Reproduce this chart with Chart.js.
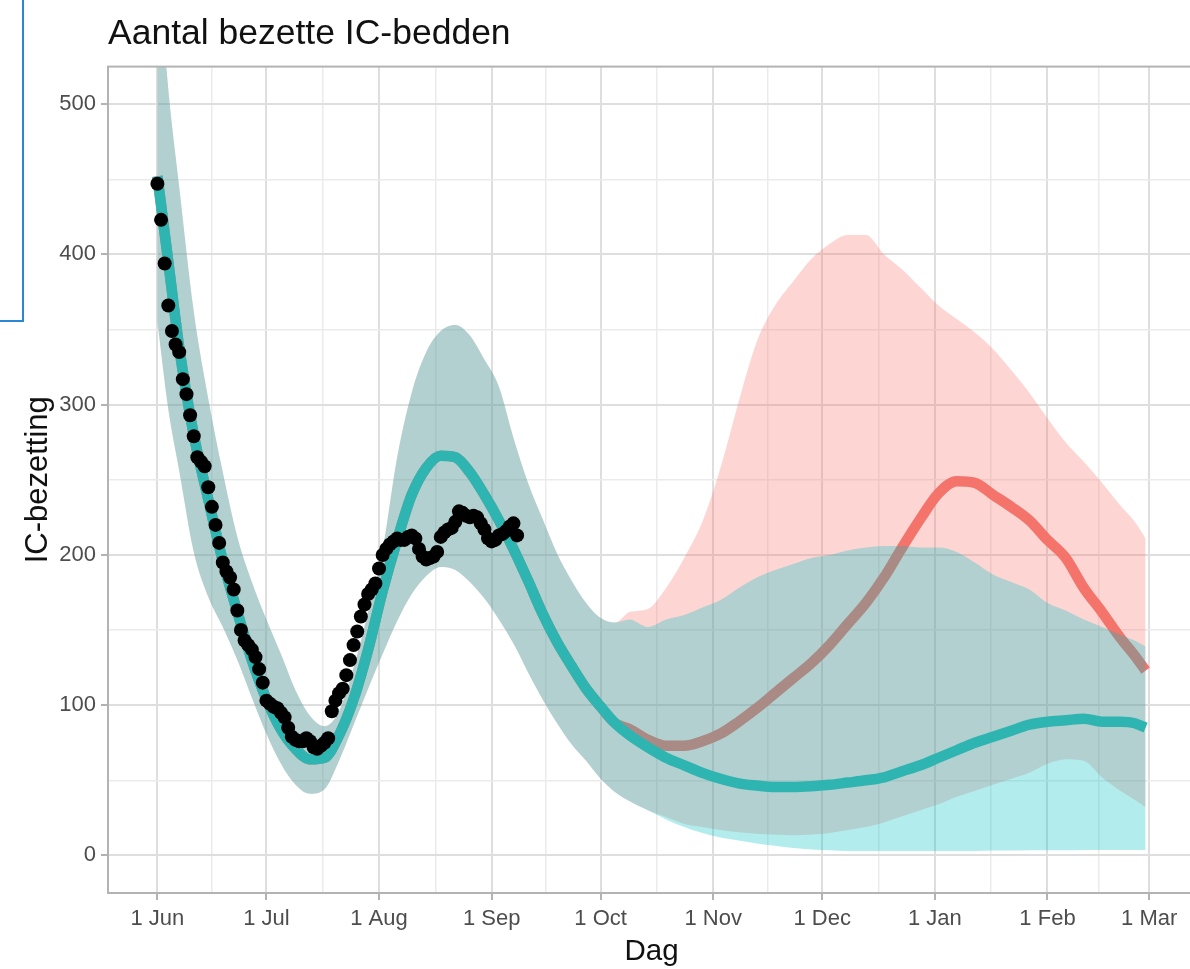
<!DOCTYPE html>
<html>
<head>
<meta charset="utf-8">
<title>Aantal bezette IC-bedden</title>
<script src="https://cdn.jsdelivr.net/npm/chart.js@4.4.0/dist/chart.umd.min.js"></script>
<style>
  html, body { margin: 0; padding: 0; background: #fff; overflow: hidden; }
  #wrap { position: relative; width: 1190px; height: 969px; overflow: hidden; }
  #icChart { position: absolute; left: 0; top: 0; }
  #frame { position: absolute; left: 0; top: 0; width: 22px; height: 320px;
           border-right: 2px solid #2b87d5; border-bottom: 2px solid #2b87d5; }
</style>
</head>
<body>
<div id="wrap">
  <canvas id="icChart" width="1210" height="969"></canvas>
  <div id="frame"></div>
</div>
<script>
// x = days since 1 June
const majorDays = [0, 30, 61, 92, 122, 153, 183, 214, 245, 273];
const monthLabels = ['1 Jun', '1 Jul', '1 Aug', '1 Sep', '1 Oct', '1 Nov', '1 Dec', '1 Jan', '1 Feb', '1 Mar'];
const minorDays = [15, 45.5, 76.5, 107, 137.5, 168, 198.5, 229.5, 259];
const yMajor = [0, 100, 200, 300, 400, 500];
const yMinor = [50, 150, 250, 350, 450];

// daily observed IC occupancy, starting 1 June
const observed = [
  447, 423, 394, 366, 349, 340, 335, 317, 307, 293,
  279, 265, 262, 259, 245, 232, 220, 208, 195, 189,
  185, 177, 163, 150, 143, 140, 137, 132, 124, 115,
  103, 101, 99, 98, 95, 92, 85, 79, 77, 76,
  76, 78, 76, 72, 71, 73, 75, 78, 96, 103,
  108, 111, 120, 130, 140, 149, 159, 167, 174, 177,
  181, 191, 200, 204, 207, 209, 211, 210, 210, 212,
  213, 211, 204, 199, 197, 198, 199, 202, 212, 215,
  217, 218, 222, 229, 228, 226, 225, 226, 225, 221,
  217, 211, 209, 210, 213, 214, 216, 219, 221, 213
];

// model fit, shared by both scenarios up to mid October
const fitDays = [0, 3, 6, 10, 14, 18, 22, 26, 30, 34, 38, 42, 46, 50, 54, 58, 62, 66, 70, 74, 78, 82, 86, 90, 94, 98, 102, 106, 110, 114, 118, 122, 126];
const fitMid = [452, 395, 338, 280, 237, 196, 162, 130, 104, 84, 71, 64, 65, 80, 104, 137, 176, 210, 240, 258, 266, 265, 255, 240, 223, 204, 183, 161, 142, 126, 111, 99, 88];
const fitHi = [600, 510, 445, 362, 304, 255, 212, 182, 157, 134, 110, 93, 86, 96, 125, 162, 203, 265, 308, 335, 349, 353, 346, 330, 312, 278, 248, 224, 201, 183, 168, 158, 155];
const fitLo = [355, 297, 256, 202, 172, 152, 130, 105, 81, 61, 47, 41, 44, 63, 87, 111, 134, 156, 174, 186, 192, 190, 182, 171, 157, 141, 122, 104, 88, 74, 63, 51, 42];

// scenario projections
const fcDays = [130, 135, 140, 145, 150, 155, 160, 165, 170, 175, 180, 185, 190, 195, 200, 205, 210, 215, 220, 225, 230, 235, 240, 245, 250, 255, 260, 265, 269, 272];
const cyanMid = [80, 72, 65, 60, 55, 51, 48, 46.5, 45.5, 45.5, 46, 47, 48.5, 50, 52, 56, 60, 65, 70, 75, 79, 83, 87, 89, 90, 91, 89, 89, 88, 85];
const cyanHi = [157, 152, 157, 160, 165, 170, 178, 185, 190, 194, 198, 200, 203, 205, 206, 206, 205, 205, 202, 195, 187, 182, 177, 168, 163, 157, 152, 147, 143, 139];
const cyanLo = [36, 30, 24, 19, 15, 12, 10, 8, 6.5, 5, 4, 3.5, 3, 3, 3, 3, 3, 3, 3, 3, 3.3, 3.3, 3.5, 3.5, 3.5, 3.7, 3.7, 3.7, 3.7, 3.7];
const redMid = [84, 77, 73, 73, 76, 81, 89, 98, 108, 118, 128, 140, 154, 168, 185, 205, 224, 241, 249, 248, 240, 232, 223, 210, 198, 178, 162, 145, 133, 123];
const redHi = [162, 164, 178, 198, 222, 258, 302, 342, 366, 382, 397, 407, 413, 413, 400, 390, 378, 366, 357, 348, 337, 323, 308, 291, 275, 262, 248, 233, 222, 211];
const redLo = [36, 30, 25.5, 21, 19, 17, 15.5, 14.5, 14, 13.5, 14, 15, 17, 19, 22, 26, 30, 34, 39, 43, 47, 51, 55, 61, 64, 63, 52, 43, 37, 32];

const CYAN = '#2fb5b1';
const RED = '#f4736b';
const FONT = "'Liberation Sans', Arial, sans-serif";

function points(days, values) {
  return days.map((d, i) => ({ x: d, y: values[i] }));
}
const allDays = fitDays.concat(fcDays);
const series = (shared, tail) => points(allDays, shared.concat(tail));

const band = (data, fill, color, order) => ({
  data, fill, backgroundColor: color, borderWidth: 0, pointRadius: 0,
  cubicInterpolationMode: 'monotone', order
});
const curve = (data, color, order) => ({
  data, fill: false, borderColor: color, borderWidth: 10.5, borderCapStyle: 'butt',
  borderJoinStyle: 'round', pointRadius: 0, cubicInterpolationMode: 'monotone', order
});

const isMajor = (list, ctx) => ctx.tick && list.includes(ctx.tick.value);

// grey panel outline drawn over the data
const panelFrame = {
  id: 'panelFrame',
  afterDatasetsDraw(chart) {
    const { ctx, chartArea: a } = chart;
    ctx.save();
    ctx.strokeStyle = '#b3b3b3';
    ctx.lineWidth = 2;
    ctx.strokeRect(a.left, a.top, a.right - a.left, a.bottom - a.top);
    ctx.restore();
  }
};

new Chart(document.getElementById('icChart'), {
  type: 'line',
  data: {
    datasets: [
      band(series(fitHi, redHi), '+1', 'rgba(248,118,109,0.3)', 60),
      band(series(fitLo, redLo), false, 'transparent', 59),
      curve(series(fitMid, redMid), RED, 50),
      band(series(fitHi, cyanHi), '+1', 'rgba(0,191,196,0.3)', 40),
      band(series(fitLo, cyanLo), false, 'transparent', 39),
      curve(series(fitMid, cyanMid), CYAN, 30),
      {
        data: observed.map((v, i) => ({ x: i, y: v })),
        showLine: false, pointRadius: 7, pointHoverRadius: 7,
        pointBackgroundColor: '#000', pointBorderWidth: 0, order: 10
      }
    ]
  },
  options: {
    responsive: false,
    animation: false,
    events: [],
    layout: { padding: { left: 0, right: 15, top: 0, bottom: 0 } },
    plugins: {
      legend: { display: false },
      tooltip: { enabled: false },
      title: {
        display: true,
        text: 'Aantal bezette IC-bedden',
        align: 'start',
        fullSize: false,
        color: '#111',
        font: { family: FONT, size: 35.5, weight: 'normal' },
        padding: { top: 13, bottom: 11 }
      }
    },
    scales: {
      x: {
        type: 'linear',
        min: -13.6,
        max: 285.6,
        afterFit(scale) { scale.height = 76; },
        afterBuildTicks(scale) {
          scale.ticks = majorDays.concat(minorDays).sort((a, b) => a - b).map(v => ({ value: v }));
        },
        ticks: {
          autoSkip: false, maxRotation: 0, padding: 6,
          color: '#4d4d4d', font: { family: FONT, size: 22 },
          callback(value) {
            const i = majorDays.indexOf(value);
            return i >= 0 ? monthLabels[i] : '';
          }
        },
        grid: {
          color: ctx => isMajor(majorDays, ctx) ? '#dedede' : '#ebebeb',
          lineWidth: ctx => isMajor(majorDays, ctx) ? 2 : 1.5,
          tickColor: ctx => isMajor(majorDays, ctx) ? '#b3b3b3' : 'rgba(0,0,0,0)',
          tickWidth: 2,
          tickLength: 7
        },
        border: { display: false },
        title: {
          display: true, text: 'Dag', color: '#111',
          font: { family: FONT, size: 29.5 },
          padding: { top: 0, bottom: -1 }
        }
      },
      y: {
        min: -25,
        max: 525,
        afterFit(scale) { scale.width = 108; },
        afterBuildTicks(scale) {
          scale.ticks = yMajor.concat(yMinor).sort((a, b) => a - b).map(v => ({ value: v }));
        },
        ticks: {
          autoSkip: false, padding: 5,
          color: '#4d4d4d', font: { family: FONT, size: 22 },
          callback: value => (yMajor.includes(value) ? String(value) : '')
        },
        grid: {
          color: ctx => isMajor(yMajor, ctx) ? '#dedede' : '#ebebeb',
          lineWidth: ctx => isMajor(yMajor, ctx) ? 2 : 1.5,
          tickColor: ctx => isMajor(yMajor, ctx) ? '#b3b3b3' : 'rgba(0,0,0,0)',
          tickWidth: 2,
          tickLength: 7
        },
        border: { display: false },
        title: {
          display: true, text: 'IC-bezetting', color: '#111',
          font: { family: FONT, size: 31 },
          padding: { top: 20, bottom: 0 }
        }
      }
    }
  },
  plugins: [panelFrame]
});
</script>
</body>
</html>
